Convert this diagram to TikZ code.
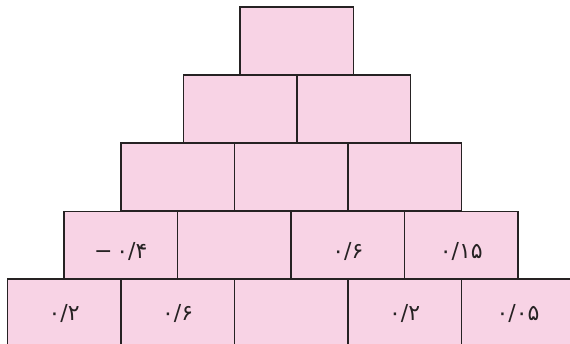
\documentclass[tikz,border=0pt]{standalone}
\usepackage{fontspec}
\usetikzlibrary{positioning}
\newfontfamily\persianfont{DejaVu Sans}
\definecolor{brickpink}{HTML}{F8D3E5}
\definecolor{brickline}{HTML}{262223}

\begin{document}
\begin{tikzpicture}[x=1pt, y=-1pt,
    brick/.style={rectangle, draw=brickline, line width=1.6pt, fill=brickpink, minimum width=113.5pt, minimum height=68pt, inner sep=0pt, outer sep=0pt, anchor=north west},
    num/.style={font=\persianfont\fontsize{22}{26}\selectfont, text=brickline}
]
\path[use as bounding box, clip] (0,0) rectangle (570,344);

% Row 1: top brick
\node[brick] (b11) at (240,7) {};

% Row 2
\node[brick] (b21) at (183.3,75.3) {};
\node[brick, right=0pt of b21] (b22) {};

% Row 3
\node[brick] (b31) at (120.8,143.3) {};
\node[brick, right=0pt of b31] (b32) {};
\node[brick, right=0pt of b32] (b33) {};

% Row 4
\node[brick] (b41) at (64.05,211.5) {};
\node[brick, right=0pt of b41] (b42) {};
\node[brick, right=0pt of b42] (b43) {};
\node[brick, right=0pt of b43] (b44) {};

% Row 5: bottom row, cut off at the right and bottom edges
\node[brick] (b51) at (7.3,279.3) {};
\node[brick, right=0pt of b51] (b52) {};
\node[brick, right=0pt of b52] (b53) {};
\node[brick, right=0pt of b53] (b54) {};
\node[brick, right=0pt of b54] (b55) {};

% Given numbers
\node[num] (t41) at ([yshift=-6pt]b41.center) {−\,۰/۴};
\node[num] (t43) at ([yshift=-6pt]b43.center) {۰/۶};
\node[num] (t44) at ([yshift=-6pt]b44.center) {۰/۱۵};
\node[num] (t51) at (b51.center) {۰/۲};
\node[num] (t52) at (b52.center) {۰/۶};
\node[num] (t54) at (b54.center) {۰/۲};
\node[num] (t55) at (b55.center) {۰/۰۵};
\end{tikzpicture}
\end{document}
